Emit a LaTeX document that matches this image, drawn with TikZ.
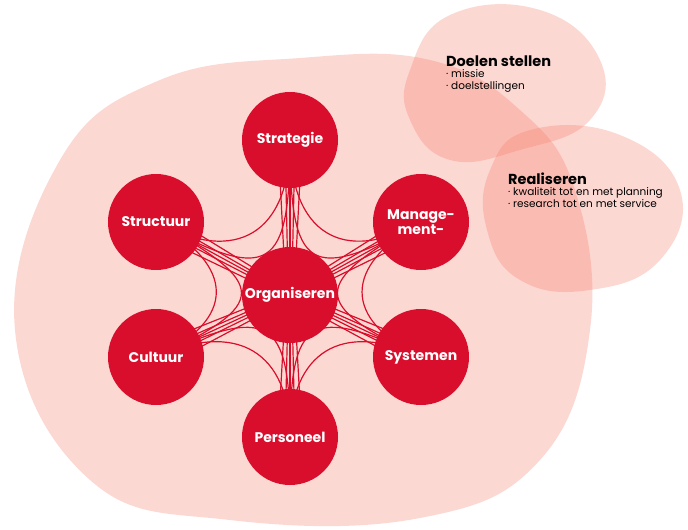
\documentclass[tikz,border=0pt]{standalone}
\usepackage{fontspec}
\setmainfont{Poppins}
\usetikzlibrary{calc}
\definecolor{cred}{RGB}{217,14,44}
\definecolor{blob}{RGB}{246,125,105}
\begin{document}
\begin{tikzpicture}[x=1pt,y=-1pt,
  bl/.style={fill=blob,fill opacity=0.3,draw=none},
  circ/.style={circle,fill=cred,minimum size=96pt,inner sep=0pt,text=white,font=\bfseries\fontsize{14}{15}\selectfont,align=center},
  con/.style={draw=cred,line width=1.2pt}]
\useasboundingbox (0,0) rectangle (688,530);
\fill[bl] plot[smooth cycle,tension=0.7] coordinates {(15,330) (60,160) (160,80) (300,58) (430,60) (520,110) (575,190) (590,330) (540,460) (420,518) (230,520) (90,480)};
\fill[bl] plot[smooth cycle,tension=0.75] coordinates {(410,70) (450,15) (540,10) (600,60) (590,120) (520,150) (450,160) (410,120)};
\fill[bl] plot[smooth cycle,tension=0.75] coordinates {(490,170) (530,130) (620,135) (680,190) (660,260) (590,290) (520,280) (487,230)};
\coordinate (o) at (290,295);
\coordinate (st) at (290,140);
\coordinate (mg) at (421,222);
\coordinate (sy) at (421,357);
\coordinate (pe) at (290,437);
\coordinate (cu) at (156,357);
\coordinate (sr) at (156,222);
\foreach \a/\b in {st/mg,mg/sy,sy/pe,pe/cu,cu/sr,sr/st}{
  \draw[con] (\a) .. controls ($(\a)!0.6!(o)$) and ($(\b)!0.6!(o)$) .. (\b);
  \draw[con] (\a) .. controls ($(\a)!0.85!(o)$) and ($(\b)!0.85!(o)$) .. (\b);
}
\foreach \a in {st,mg,sy,pe,cu,sr}{
  \foreach \d/\e in {-12/-4,-5/-1.7,0/0,5/1.7,12/4}{
    \draw[con] ($(\a)!\d pt!90:(o)$) -- ($(o)!\e pt!-90:(\a)$);
  }
}
\foreach \n/\t in {o/Organiseren,st/Strategie,mg/{Manage-\\ment-},sy/Systemen,pe/Personeel,cu/Cultuur,sr/Structuur}
  \node[circ] (n\n) at (\n) {\t};
\node[anchor=north west,align=left,inner sep=0pt] (d) at (446,56) {{\bfseries\fontsize{14.5}{16}\selectfont Doelen stellen}\\[-1pt]{\fontsize{10.5}{13}\selectfont · missie}\\{\fontsize{10.5}{13}\selectfont · doelstellingen}};
\node[anchor=north west,align=left,inner sep=0pt] (r) at (508,173) {{\bfseries\fontsize{14.5}{16}\selectfont Realiseren}\\[-1pt]{\fontsize{10.5}{13}\selectfont · kwaliteit tot en met planning}\\{\fontsize{10.5}{13}\selectfont · research tot en met service}};
\end{tikzpicture}
\end{document}
